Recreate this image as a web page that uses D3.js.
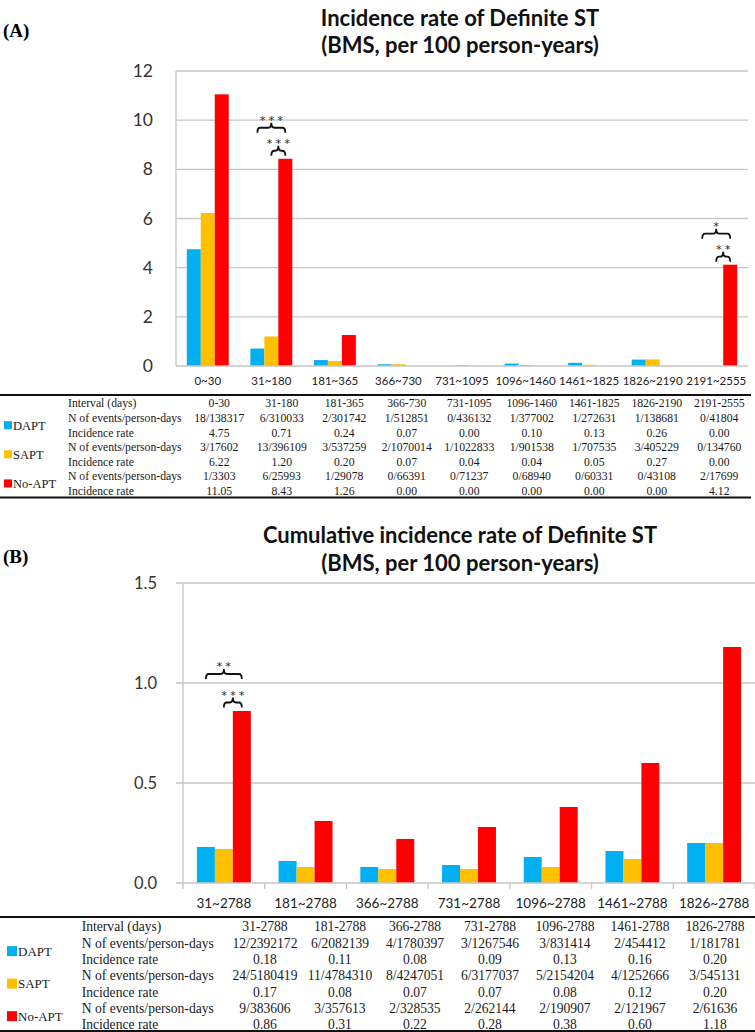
<!DOCTYPE html>
<html><head><meta charset="utf-8">
<script src="https://cdn.jsdelivr.net/npm/d3@7"></script>
<style>
html,body{margin:0;padding:0;background:#fff;}
svg{display:block;}
</style></head>
<body>
<svg id="c" width="755" height="1032"></svg>
<script>
// ---------- DATA ----------
const series = ["DAPT","SAPT","No-APT"];
const colors = ["#00B0F0","#FFC000","#FF0000"];

// Panel A
const categoriesA = ["0~30","31~180","181~365","366~730","731~1095","1096~1460","1461~1825","1826~2190","2191~2555"];
const intervalsA  = ["0-30","31-180","181-365","366-730","731-1095","1096-1460","1461-1825","1826-2190","2191-2555"];
const daptA   = [4.75,0.71,0.24,0.07,0.00,0.10,0.13,0.26,0.00];
const saptA   = [6.22,1.20,0.20,0.07,0.04,0.04,0.05,0.27,0.00];
const noaptA  = [11.05,8.43,1.26,0.00,0.00,0.00,0.00,0.00,4.12];
const daptEvA  = ["18/138317","6/310033","2/301742","1/512851","0/436132","1/377002","1/272631","1/138681","0/41804"];
const saptEvA  = ["3/17602","13/396109","3/537259","2/1070014","1/1022833","1/901538","1/707535","3/405229","0/134760"];
const noaptEvA = ["1/3303","6/25993","1/29078","0/66391","0/71237","0/68940","0/60331","0/43108","2/17699"];
const yTicksA = [0,2,4,6,8,10,12];
const sigA = [
  {cat:"31~180", from:"DAPT", to:"No-APT", label:"***", level:"upper"},
  {cat:"31~180", from:"SAPT", to:"No-APT", label:"***", level:"lower"},
  {cat:"2191~2555", from:"DAPT", to:"No-APT", label:"*", level:"upper"},
  {cat:"2191~2555", from:"SAPT", to:"No-APT", label:"**", level:"lower"}
];

// Panel B
const categoriesB = ["31~2788","181~2788","366~2788","731~2788","1096~2788","1461~2788","1826~2788"];
const intervalsB  = ["31-2788","181-2788","366-2788","731-2788","1096-2788","1461-2788","1826-2788"];
const daptB   = [0.18,0.11,0.08,0.09,0.13,0.16,0.20];
const saptB   = [0.17,0.08,0.07,0.07,0.08,0.12,0.20];
const noaptB  = [0.86,0.31,0.22,0.28,0.38,0.60,1.18];
const daptEvB  = ["12/2392172","6/2082139","4/1780397","3/1267546","3/831414","2/454412","1/181781"];
const saptEvB  = ["24/5180419","11/4784310","8/4247051","6/3177037","5/2154204","4/1252666","3/545131"];
const noaptEvB = ["9/383606","3/357613","2/328535","2/262144","2/190907","2/121967","2/61636"];
const yTicksB = [0,0.5,1.0,1.5];
const sigB = [
  {cat:"31~2788", from:"DAPT", to:"No-APT", label:"**", level:"upper"},
  {cat:"31~2788", from:"SAPT", to:"No-APT", label:"***", level:"lower"}
];

const svg = d3.select("#c");
const SANS = "Lato, 'Open Sans', sans-serif";
const SERIF = "'Liberation Serif', 'Times New Roman', serif";
const axisText = "#333";

function bracketPath(x0, x1, y, h, s) {
  const m = (x0 + x1) / 2, r = 3;
  return `M${x0},${y+h} Q${x0},${y} ${x0+r},${y} L${m-r},${y} Q${m},${y} ${m},${y-s} Q${m},${y} ${m+r},${y} L${x1-r},${y} Q${x1},${y} ${x1},${y+h}`;
}

function drawPanel(o) {
  const g = svg.append("g");
  const vals = [o.dapt, o.sapt, o.noapt];
  const x = d3.scaleBand().domain(o.cats).range([o.x0, o.x1]).padding(0);
  const bw = x.bandwidth();
  const xs = d3.scaleBand().domain(series).range([bw*0.17, bw*0.83]).padding(0);
  const y = d3.scaleLinear().domain([0, o.ymax]).range([o.yBase, o.yTop]);

  // gridlines
  g.append("g").selectAll("line").data(o.yTicks.filter(t => t > 0)).join("line")
    .attr("x1", o.gridStart).attr("x2", o.gridEnd)
    .attr("y1", d => y(d)).attr("y2", d => y(d))
    .attr("stroke", "#c6c6c6").attr("stroke-width", 1.3);

  // y axis line
  g.append("line").attr("x1", o.x0).attr("x2", o.x0).attr("y1", y(0)).attr("y2", y(o.ymax))
    .attr("stroke", "#c6c6c6").attr("stroke-width", 1.3);

  // y axis labels
  const ya = d3.axisLeft(y).tickValues(o.yTicks).tickSize(0).tickPadding(o.yPad).tickFormat(o.yFmt);
  const yg = g.append("g").attr("transform", `translate(${o.x0},0)`).call(ya);
  yg.select(".domain").remove();
  yg.selectAll("text").attr("font-family", SANS).attr("font-size", o.yFont).attr("fill", axisText);

  // bars
  series.forEach((s, si) => {
    g.append("g").selectAll("rect").data(o.cats).join("rect")
      .attr("x", (c) => x(c) + xs(s))
      .attr("width", xs.bandwidth())
      .attr("y", (c, i) => y(vals[si][i]))
      .attr("height", (c, i) => y(0) - y(vals[si][i]))
      .attr("fill", colors[si]);
  });

  // baseline
  g.append("line").attr("x1", o.gridStart).attr("x2", o.gridEnd).attr("y1", y(0)).attr("y2", y(0))
    .attr("stroke", "#c6c6c6").attr("stroke-width", 1.3);
  if (o.boundaryTicks) {
    g.append("g").selectAll("line").data(o.cats.concat(["__end"])).join("line")
      .attr("x1", (c, i) => i < o.cats.length ? x(c) : x(o.cats[o.cats.length-1]) + bw)
      .attr("x2", (c, i) => i < o.cats.length ? x(c) : x(o.cats[o.cats.length-1]) + bw)
      .attr("y1", y(0)).attr("y2", y(0) + 6)
      .attr("stroke", "#c6c6c6").attr("stroke-width", 1.3);
  }

  // x axis labels
  const xa = d3.axisBottom(x).tickSize(0).tickPadding(o.xPad);
  const xg = g.append("g").attr("transform", `translate(0,${y(0)})`).call(xa);
  xg.select(".domain").remove();
  xg.selectAll("text").attr("font-family", SANS).attr("font-size", o.xFont).attr("fill", "#222");

  // significance brackets
  o.sig.forEach(d => {
    const ci = o.cats.indexOf(d.cat);
    const top = y(o.noapt[ci]);
    const by = top - (d.level === "lower" ? o.lowOff : o.upOff);
    const xa0 = x(d.cat) + xs(d.from) + xs.bandwidth()/2;
    const xa1 = x(d.cat) + xs(d.to) + xs.bandwidth()/2;
    g.append("path").attr("d", bracketPath(xa0, xa1, by, 5, 5))
      .attr("fill", "none").attr("stroke", "#111").attr("stroke-width", 1.8);
    g.append("text").attr("x", (xa0 + xa1)/2 + 1).attr("y", by - 1)
      .attr("text-anchor", "middle").attr("font-family", SANS).attr("font-size", 16)
      .attr("letter-spacing", 2).attr("fill", "#333").text(d.label);
  });

  // titles
  o.title.forEach((t, i) => {
    svg.append("text").attr("x", 460).attr("y", o.titleY[i]).attr("text-anchor", "middle")
      .attr("font-family", SANS).attr("font-weight", 700).attr("font-size", o.titleFont)
      .attr("fill", "#111").text(t);
  });
  svg.append("text").attr("x", 3).attr("y", o.panelY).attr("font-family", SERIF)
    .attr("font-weight", 700).attr("font-size", 19).attr("fill", "#000").text(o.panel);
}

function drawTable(o) {
  const g = svg.append("g");
  const rows = ["hdr","d1","d2","s1","s2","n1","n2"];
  const ry = d3.scalePoint().domain(rows).range([o.rowTop, o.rowBot]);
  const cx = d3.scaleBand().domain(o.intervals).range([o.colX0, o.colX1]);
  g.append("line").attr("x1", 0).attr("x2", o.lineEnd).attr("y1", o.topLine).attr("y2", o.topLine)
    .attr("stroke", "#111").attr("stroke-width", 1.8);
  g.append("line").attr("x1", 0).attr("x2", o.lineEnd).attr("y1", o.botLine).attr("y2", o.botLine)
    .attr("stroke", "#111").attr("stroke-width", 1.8);
  const txt = (x, yv, s, anchor) => g.append("text").attr("x", x).attr("y", yv)
    .attr("dy", "0.35em").attr("text-anchor", anchor).attr("font-family", SERIF)
    .attr("font-size", o.font).attr("fill", "#1a1a1a").text(s);
  const labels = ["Interval (days)","N of events/person-days","Incidence rate","N of events/person-days","Incidence rate","N of events/person-days","Incidence rate"];
  rows.forEach((r, i) => txt(o.labelX, ry(r), labels[i], "start"));
  const rowData = [o.intervals, o.dEv, o.dapt.map(d3.format(".2f")), o.sEv, o.sapt.map(d3.format(".2f")), o.nEv, o.noapt.map(d3.format(".2f"))];
  rows.forEach((r, ri) => {
    rowData[ri].forEach((s, ci) => txt(cx(o.intervals[ci]) + cx.bandwidth()/2, ry(r), s, "middle"));
  });
  const groups = [["d1","d2"],["s1","s2"],["n1","n2"]];
  series.forEach((s, si) => {
    const yc = (ry(groups[si][0]) + ry(groups[si][1])) / 2;
    g.append("rect").attr("x", o.sqX).attr("y", yc - o.sq/2).attr("width", o.sq).attr("height", o.sq).attr("fill", colors[si]);
    g.append("text").attr("x", o.sqX + o.sq + 1).attr("y", yc).attr("dy", "0.35em")
      .attr("font-family", SERIF).attr("font-size", o.gFont).attr("fill", "#1a1a1a").text(s);
  });
}

// ---------- Panel A ----------
drawPanel({
  cats: categoriesA, dapt: daptA, sapt: saptA, noapt: noaptA,
  x0: 176, x1: 748, gridStart: 176, gridEnd: 748, yBase: 366, yTop: 71, ymax: 12,
  yTicks: yTicksA, yFmt: d3.format("d"), yPad: 23, yFont: 17.5, xPad: 11, xFont: 11.5,
  boundaryTicks: false, sig: sigA, lowOff: 8, upOff: 31,
  title: ["Incidence rate of Definite ST","(BMS, per 100 person-years)"], titleY: [26, 53], titleFont: 22,
  panel: "(A)", panelY: 37
});
drawTable({
  intervals: intervalsA, dEv: daptEvA, sEv: saptEvA, nEv: noaptEvA, dapt: daptA, sapt: saptA, noapt: noaptA,
  rowTop: 403.3, rowBot: 490.7, colX0: 188, colX1: 750.5, topLine: 395, botLine: 497.5, lineEnd: 751,
  labelX: 68, font: 11.7, gFont: 12.5, sqX: 4, sq: 8
});

// ---------- Panel B ----------
drawPanel({
  cats: categoriesB, dapt: daptB, sapt: saptB, noapt: noaptB,
  x0: 183, x1: 755, gridStart: 176, gridEnd: 755, yBase: 883, yTop: 583, ymax: 1.5,
  yTicks: yTicksB, yFmt: d3.format(".1f"), yPad: 26, yFont: 16.5, xPad: 15, xFont: 13.5,
  boundaryTicks: true, sig: sigB, lowOff: 8.5, upOff: 37,
  title: ["Cumulative incidence rate of Definite ST","(BMS, per 100 person-years)"], titleY: [543, 571], titleFont: 22,
  panel: "(B)", panelY: 563
});
drawTable({
  intervals: intervalsB, dEv: daptEvB, sEv: saptEvB, nEv: noaptEvB, dapt: daptB, sapt: saptB, noapt: noaptB,
  rowTop: 926.7, rowBot: 1024.3, colX0: 227.5, colX1: 752.5, topLine: 917, botLine: 1031, lineEnd: 755,
  labelX: 81.7, font: 13.6, gFont: 13, sqX: 7, sq: 10
});
</script>
</body></html>
